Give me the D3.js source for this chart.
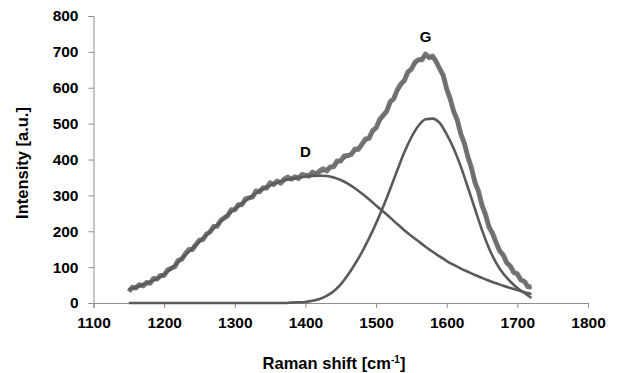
<!DOCTYPE html>
<html>
<head>
<meta charset="utf-8">
<script src="https://cdn.jsdelivr.net/npm/d3@7"></script>
<style>
  body { margin: 0; background: #fff; }
  text { font-family: "Liberation Sans", Arial, sans-serif; font-weight: bold; fill: #000; }
</style>
</head>
<body>
<div id="chart"></div>
<script>
// measured spectrum, 1150..1720 cm-1 every 5
var rawStart = 1150, rawStep = 5;
var rawIntensity = [
  32, 44, 42, 51, 48, 57, 55, 68, 67, 77,
  77, 92, 97, 101, 119, 122, 137, 149, 149, 163,
  175, 177, 192, 198, 213, 214, 230, 237, 243, 260,
  260, 274, 274, 290, 293, 295, 312, 310, 321, 320,
  335, 330, 340, 334, 345, 351, 345, 352, 347, 358,
  356, 354, 365, 359, 368, 374, 368, 379, 380, 396,
  396, 410, 411, 414, 429, 428, 443, 457, 459, 480,
  488, 511, 523, 534, 561, 569, 594, 610, 620, 644,
  652, 671, 678, 678, 694, 684, 688, 673, 653, 635,
  596, 569, 533, 510, 471, 445, 407, 377, 336, 311,
  272, 246, 211, 194, 168, 145, 134, 112, 103, 85,
  81, 64, 60, 45, 45
];

// fitted curves, every 10 cm-1
var fitX = d3.range(1150, 1721, 10);
var fitTotal = [
  38, 44, 51, 59, 68, 80, 96, 114, 134, 152,
  171, 190, 208, 227, 246, 262, 277, 292, 306, 318,
  328, 336, 342, 347, 351, 355, 359, 364, 371, 384,
  398, 410, 424, 441, 462, 490, 522, 555, 590, 625,
  655, 676, 688, 684, 655, 600, 535, 474, 408, 340,
  274, 214, 167, 130, 100, 77, 57, 40
];
var bandD = [
  38, 44, 51, 59, 68, 80, 96, 114, 134, 152,
  171, 190, 208, 227, 246, 262, 277, 292, 306, 318,
  328, 336, 342, 346, 349, 352, 354, 355, 354, 350,
  343, 333, 320, 305, 289, 272, 255, 238, 220, 203,
  187, 172, 157, 143, 130, 117, 106, 96, 87, 78,
  70, 62, 55, 48, 42, 36, 30, 25
];
var bandG = [
  0, 0, 0, 0, 0, 0, 0, 0, 0, 0,
  0, 0, 0, 0, 0, 0, 0, 0, 0, 0,
  0, 0, 0, 1, 2, 3, 6, 11, 20, 33,
  52, 78, 108, 142, 180, 222, 268, 318, 370, 420,
  462, 494, 512, 514, 502, 470, 430, 380, 322, 262,
  203, 152, 112, 82, 60, 42, 28, 14
];

var xTicks = [1100, 1200, 1300, 1400, 1500, 1600, 1700, 1800];
var yTicks = [0, 100, 200, 300, 400, 500, 600, 700, 800];
var peakLabels = [
  { name: "D", x: 1400, y: 407 },
  { name: "G", x: 1570, y: 727 }
];

var width = 620, height = 373;
var margin = { top: 16, right: 32, bottom: 70, left: 93.5 };

var svg = d3.select("#chart").append("svg")
  .attr("width", width)
  .attr("height", height);

var x = d3.scaleLinear().domain([1100, 1800]).range([margin.left, width - margin.right]);
var y = d3.scaleLinear().domain([0, 800]).range([height - margin.bottom, margin.top]);

// axes
var xAxis = svg.append("g")
  .attr("transform", "translate(0," + y(0) + ")")
  .call(d3.axisBottom(x).tickValues(xTicks).tickSize(5).tickPadding(9).tickFormat(d3.format("d")));
var yAxis = svg.append("g")
  .attr("transform", "translate(" + x(1100) + ",0)")
  .call(d3.axisLeft(y).tickValues(yTicks).tickSize(5).tickPadding(10).tickFormat(d3.format("d")));

[xAxis, yAxis].forEach(function (a) {
  a.select(".domain").attr("stroke", "#8c8c8c");
  a.selectAll(".tick line").attr("stroke", "#8c8c8c");
  a.selectAll(".tick text")
    .attr("font-family", "Liberation Sans, Arial, sans-serif")
    .attr("font-weight", "bold")
    .attr("font-size", 15.5)
    .attr("fill", "#000");
});

var rawData = rawIntensity.map(function (v, i) { return [rawStart + i * rawStep, v]; });

var line = d3.line()
  .x(function (d) { return x(d[0]); })
  .y(function (d) { return y(d[1]); });

var smooth = d3.line()
  .curve(d3.curveMonotoneX)
  .x(function (d) { return x(d[0]); })
  .y(function (d) { return y(d[1]); });

function pairs(vals) {
  return fitX.map(function (xv, i) { return [xv, vals[i]]; });
}

// measured data
svg.append("path")
  .datum(rawData)
  .attr("fill", "none")
  .attr("stroke", "#787878")
  .attr("stroke-width", 5)
  .attr("stroke-linejoin", "round")
  .attr("d", line);

// fit lines
svg.append("path")
  .datum(pairs(fitTotal))
  .attr("fill", "none")
  .attr("stroke", "#6e6e6e")
  .attr("stroke-width", 2.5)
  .attr("d", smooth);

[bandD, bandG].forEach(function (vals) {
  svg.append("path")
    .datum(pairs(vals))
    .attr("fill", "none")
    .attr("stroke", "#5a5a5a")
    .attr("stroke-width", 2.6)
    .attr("d", smooth);
});

// peak labels
svg.selectAll(".peak")
  .data(peakLabels)
  .enter().append("text")
  .attr("class", "peak")
  .attr("x", function (d) { return x(d.x); })
  .attr("y", function (d) { return y(d.y); })
  .attr("text-anchor", "middle")
  .attr("font-size", 15)
  .text(function (d) { return d.name; });

// axis titles
var xt = svg.append("text")
  .attr("x", 334)
  .attr("y", 369)
  .attr("text-anchor", "middle")
  .attr("font-size", 16.5);
xt.append("tspan").text("Raman shift [cm");
xt.append("tspan").attr("dy", -6).attr("font-size", 10).text("-1");
xt.append("tspan").attr("dy", 6).text("]");

svg.append("text")
  .attr("transform", "translate(28," + 163 + ") rotate(-90)")
  .attr("text-anchor", "middle")
  .attr("font-size", 16.5)
  .text("Intensity [a.u.]");
</script>
</body>
</html>
